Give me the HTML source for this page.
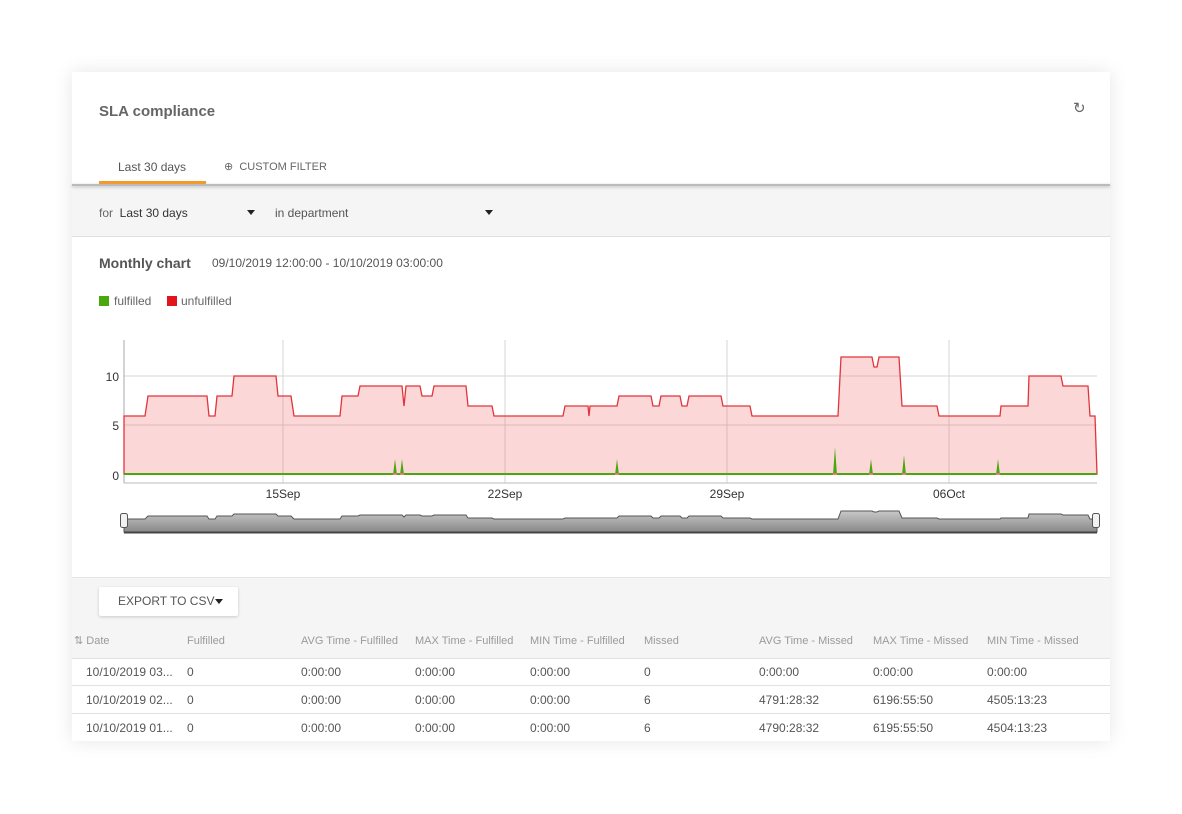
<!DOCTYPE html>
<html><head><meta charset="utf-8"><style>
body{margin:0;width:1182px;height:814px;background:#fff;font-family:"Liberation Sans",sans-serif;position:relative;overflow:hidden}
.card{position:absolute;left:72px;top:72px;width:1038px;height:669px;background:#fff;box-shadow:0 0 18px rgba(0,0,0,0.10)}
.t{position:absolute;line-height:16px;white-space:nowrap}
.gray{position:absolute;left:72px;width:1038px;background:#f5f5f5}
.th{color:#9a9a9a;font-size:11px}
.td{color:#555;font-size:12px}
.car{position:absolute;width:0;height:0;border-left:4px solid transparent;border-right:4px solid transparent;border-top:5px solid #222}
</style></head><body>
<div class="card"></div>
<div class="gray" style="top:186px;height:50px;border-bottom:1px solid #e0e0e0"></div>
<div style="position:absolute;left:72px;top:184px;width:1038px;height:2px;background:#bbb;box-shadow:0 1px 3px rgba(0,0,0,0.25)"></div>
<div class="gray" style="top:577px;height:81px;border-top:1px solid #e6e6e6"></div>
<div style="position:absolute;left:72px;top:685px;width:1038px;height:1px;background:#e2e2e2"></div>
<div style="position:absolute;left:72px;top:713px;width:1038px;height:1px;background:#e2e2e2"></div>
<div style="position:absolute;left:72px;top:658px;width:1038px;height:1px;background:#e2e2e2"></div>

<div class="t" style="left:99px;top:104px;font-size:15px;color:#555;font-weight:bold;opacity:0.9">SLA compliance</div>
<div class="t" style="left:1073px;top:101px;font-size:15px;color:#666">&#x21bb;</div>
<div class="t" style="left:118px;top:159px;font-size:12px;color:#555">Last 30 days</div>
<div style="position:absolute;left:99px;top:181px;width:107px;height:3px;background:#f39a2b"></div>
<div class="t" style="left:224px;top:159px;font-size:11px;color:#666">&#x2295;&nbsp; CUSTOM FILTER</div>

<div class="t" style="left:99px;top:205px;font-size:12px;color:#666">for <span style="color:#333">&nbsp;Last 30 days</span></div>
<div class="car" style="left:247px;top:210px"></div>
<div class="t" style="left:275px;top:205px;font-size:12px;color:#555">in department</div>
<div class="car" style="left:485px;top:210px"></div>

<div class="t" style="left:99px;top:255px;font-size:14px;font-weight:bold;color:#555">Monthly chart</div>
<div class="t" style="left:212px;top:255px;font-size:12px;color:#555">09/10/2019 12:00:00 - 10/10/2019 03:00:00</div>
<div style="position:absolute;left:99px;top:296px;width:10px;height:10px;background:#4aa80e"></div>
<div class="t" style="left:114px;top:293px;font-size:12px;color:#666">fulfilled</div>
<div style="position:absolute;left:167px;top:296px;width:10px;height:10px;background:#e3141b"></div>
<div class="t" style="left:181px;top:293px;font-size:12px;color:#666">unfulfilled</div>

<svg style="position:absolute;left:0;top:0" width="1182" height="814">
<defs><linearGradient id="ng" x1="0" y1="0" x2="0" y2="1"><stop offset="0" stop-color="#c8c8c8"/><stop offset="1" stop-color="#888"/></linearGradient></defs>
<g stroke="#d6d6d6" stroke-width="1">
<line x1="124" y1="376" x2="1097" y2="376"/><line x1="124" y1="425" x2="1097" y2="425"/>
<line x1="283" y1="340" x2="283" y2="483"/><line x1="505" y1="340" x2="505" y2="483"/>
<line x1="727" y1="340" x2="727" y2="483"/><line x1="949" y1="340" x2="949" y2="483"/>
</g>
<line x1="124" y1="340" x2="124" y2="483" stroke="#aaa"/>
<line x1="124" y1="483" x2="1097" y2="483" stroke="#bbb"/>
<polygon fill="rgba(240,110,110,0.28)" stroke="#e2343b" stroke-width="1.3" points="124,474 124,416 145,416 148,396 207,396 209,416 215,416 217,396 232,396 234,376 276,376 278,396 291,396 294,416 340,416 342,396 358,396 360,386 402,386 404,406 406,386 420,386 422,396 432,396 434,386 466,386 468,406 492,406 494,416 563,416 565,406 588,406 589,416 590,406 617,406 619,396 651,396 653,406 659,406 661,396 680,396 682,406 687,406 689,396 721,396 723,406 750,406 752,416 838,416 841,357 872,357 874,367 877,367 879,357 899,357 902,406 937,406 939,416 1000,416 1001,406 1028,406 1029,376 1061,376 1063,386 1088,386 1090,416 1095,416 1097,474"/>
<polygon fill="#4aa80e" points="124,475 393,475 395,459 397,475 400,475 402,459 404,475 615,475 617,459 619,475 833,475 835,447 837,475 869,475 871,459 873,475 902,475 904,455 906,475 996,475 998,459 1000,475 1097,475 1097,473 124,473"/>
<g font-size="12" fill="#333" font-family="Liberation Sans, sans-serif">
<text x="119" y="381" text-anchor="end">10</text><text x="119" y="430" text-anchor="end">5</text><text x="119" y="480" text-anchor="end">0</text>
<text x="283" y="498" text-anchor="middle">15Sep</text><text x="505" y="498" text-anchor="middle">22Sep</text>
<text x="727" y="498" text-anchor="middle">29Sep</text><text x="949" y="498" text-anchor="middle">06Oct</text>
</g>
<polygon fill="url(#ng)" stroke="#555" stroke-width="1" points="124,532 124,519 145,519 148,516 207,516 209,519 215,519 217,516 232,516 234,514 276,514 278,516 291,516 294,519 340,519 342,516 358,516 360,515 402,515 404,517 406,515 420,515 422,516 432,516 434,515 466,515 468,518 492,518 494,519 563,519 565,518 617,518 619,516 651,516 653,518 659,518 661,516 680,516 682,518 687,518 689,516 721,516 723,518 750,518 752,519 838,519 841,511 872,511 874,512 877,512 879,511 899,511 902,518 937,518 939,519 1000,519 1001,518 1028,518 1029,514 1061,514 1063,515 1088,515 1090,519 1097,519 1097,532"/>
<line x1="124" y1="532.5" x2="1097" y2="532.5" stroke="#444" stroke-width="2"/>
<rect x="120.5" y="513.5" width="7" height="14" rx="2" fill="#f2f2f2" stroke="#555"/>
<rect x="1092.5" y="513.5" width="7" height="14" rx="2" fill="#f2f2f2" stroke="#555"/>
</svg>

<div style="position:absolute;left:99px;top:587px;width:139px;height:29px;background:#fff;border-radius:2px;box-shadow:0 1px 3px rgba(0,0,0,0.18)"></div>
<div class="t" style="left:118px;top:593px;font-size:12px;color:#555">EXPORT TO CSV</div>
<div class="car" style="left:215px;top:599px"></div>

<div class="t th" style="left:74px;top:633px">&#x21c5; Date</div>
<div class="t th" style="left:187px;top:633px">Fulfilled</div>
<div class="t th" style="left:301px;top:633px">AVG Time - Fulfilled</div>
<div class="t th" style="left:415px;top:633px">MAX Time - Fulfilled</div>
<div class="t th" style="left:530px;top:633px">MIN Time - Fulfilled</div>
<div class="t th" style="left:644px;top:633px">Missed</div>
<div class="t th" style="left:759px;top:633px">AVG Time - Missed</div>
<div class="t th" style="left:873px;top:633px">MAX Time - Missed</div>
<div class="t th" style="left:987px;top:633px">MIN Time - Missed</div>

<div class="t td" style="left:86px;top:664px">10/10/2019 03...</div><div class="t td" style="left:187px;top:664px">0</div><div class="t td" style="left:301px;top:664px">0:00:00</div><div class="t td" style="left:415px;top:664px">0:00:00</div><div class="t td" style="left:530px;top:664px">0:00:00</div><div class="t td" style="left:644px;top:664px">0</div><div class="t td" style="left:759px;top:664px">0:00:00</div><div class="t td" style="left:873px;top:664px">0:00:00</div><div class="t td" style="left:987px;top:664px">0:00:00</div>

<div class="t td" style="left:86px;top:692px">10/10/2019 02...</div><div class="t td" style="left:187px;top:692px">0</div><div class="t td" style="left:301px;top:692px">0:00:00</div><div class="t td" style="left:415px;top:692px">0:00:00</div><div class="t td" style="left:530px;top:692px">0:00:00</div><div class="t td" style="left:644px;top:692px">6</div><div class="t td" style="left:759px;top:692px">4791:28:32</div><div class="t td" style="left:873px;top:692px">6196:55:50</div><div class="t td" style="left:987px;top:692px">4505:13:23</div>

<div class="t td" style="left:86px;top:720px">10/10/2019 01...</div><div class="t td" style="left:187px;top:720px">0</div><div class="t td" style="left:301px;top:720px">0:00:00</div><div class="t td" style="left:415px;top:720px">0:00:00</div><div class="t td" style="left:530px;top:720px">0:00:00</div><div class="t td" style="left:644px;top:720px">6</div><div class="t td" style="left:759px;top:720px">4790:28:32</div><div class="t td" style="left:873px;top:720px">6195:55:50</div><div class="t td" style="left:987px;top:720px">4504:13:23</div>
</body></html>
